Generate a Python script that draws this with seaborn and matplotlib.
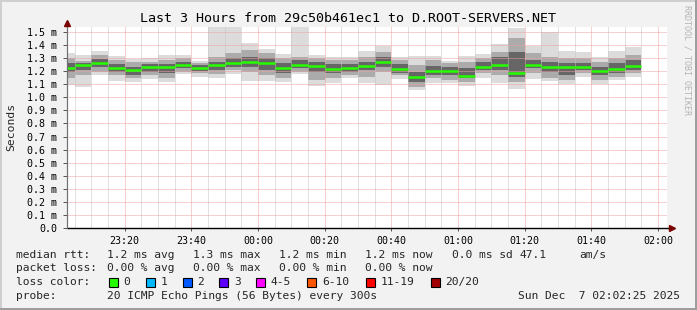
import numpy as np
import pandas as pd
import matplotlib
matplotlib.use("Agg")
import matplotlib.pyplot as plt
import seaborn as sns
from matplotlib.patches import Rectangle

# ---------------- data (ms) ----------------
bin_start = ["23:00", "23:05", "23:10", "23:15", "23:20", "23:25", "23:30", "23:35",
             "23:40", "23:45", "23:50", "23:55", "00:00", "00:05", "00:10", "00:15",
             "00:20", "00:25", "00:30", "00:35", "00:40", "00:45", "00:50", "00:55",
             "01:00", "01:05", "01:10", "01:15", "01:20", "01:25", "01:30", "01:35",
             "01:40", "01:45", "01:50"]

median = [1.222, 1.250, 1.265, 1.226, 1.212, 1.232, 1.232, 1.250, 1.224, 1.250,
          1.265, 1.272, 1.262, 1.227, 1.250, 1.242, 1.219, 1.227, 1.242, 1.273,
          1.219, 1.155, 1.204, 1.204, 1.165, 1.232, 1.248, 1.188, 1.248, 1.232,
          1.232, 1.232, 1.202, 1.213, 1.242]
rtt_max = [1.341, 1.324, 1.357, 1.316, 1.296, 1.303, 1.324, 1.324, 1.278, 1.600,
           1.600, 1.415, 1.370, 1.330, 1.600, 1.324, 1.311, 1.306, 1.354, 1.394,
           1.306, 1.313, 1.313, 1.278, 1.314, 1.330, 1.406, 1.528, 1.394, 1.502,
           1.354, 1.344, 1.306, 1.354, 1.387]
rtt_min = [1.094, 1.081, 1.171, 1.127, 1.117, 1.138, 1.120, 1.177, 1.158, 1.150,
           1.178, 1.126, 1.121, 1.118, 1.177, 1.089, 1.113, 1.149, 1.113, 1.094,
           1.141, 1.053, 1.110, 1.113, 1.083, 1.145, 1.107, 1.066, 1.140, 1.122,
           1.103, 1.155, 1.103, 1.132, 1.152]
mid_hi = [1.300, 1.278, 1.324, 1.285, 1.268, 1.272, 1.285, 1.298, 1.260, 1.311,
          1.337, 1.362, 1.337, 1.298, 1.311, 1.298, 1.285, 1.285, 1.311, 1.349,
          1.285, 1.247, 1.285, 1.260, 1.272, 1.298, 1.349, 1.451, 1.337, 1.311,
          1.298, 1.298, 1.272, 1.298, 1.324]
mid_lo = [1.150, 1.170, 1.196, 1.171, 1.145, 1.171, 1.145, 1.196, 1.183, 1.176,
          1.209, 1.196, 1.171, 1.145, 1.196, 1.132, 1.145, 1.171, 1.158, 1.196,
          1.171, 1.081, 1.145, 1.132, 1.120, 1.183, 1.171, 1.120, 1.183, 1.145,
          1.132, 1.183, 1.132, 1.158, 1.183]
dark_hi = [1.260, 1.265, 1.290, 1.255, 1.234, 1.252, 1.252, 1.272, 1.247, 1.272,
           1.298, 1.311, 1.298, 1.260, 1.285, 1.272, 1.252, 1.252, 1.272, 1.311,
           1.252, 1.196, 1.242, 1.234, 1.222, 1.272, 1.311, 1.349, 1.285, 1.272,
           1.260, 1.260, 1.234, 1.260, 1.285]
dark_lo = [1.190, 1.209, 1.234, 1.191, 1.171, 1.196, 1.183, 1.222, 1.201, 1.209,
           1.234, 1.234, 1.209, 1.183, 1.222, 1.196, 1.183, 1.196, 1.209, 1.234,
           1.183, 1.120, 1.171, 1.171, 1.145, 1.209, 1.209, 1.158, 1.222, 1.196,
           1.171, 1.209, 1.171, 1.183, 1.209]

xtick_labels = ["23:20", "23:40", "00:00", "00:20", "00:40", "01:00", "01:20", "01:40", "02:00"]
ytick_values = [0.0, 0.1, 0.2, 0.3, 0.4, 0.5, 0.6, 0.7, 0.8, 0.9, 1.0, 1.1, 1.2, 1.3, 1.4, 1.5]

title = "Last 3 Hours from 29c50b461ec1 to D.ROOT-SERVERS.NET"
stats_rtt = ["median rtt:", "1.2 ms avg", "1.3 ms max", "1.2 ms min", "1.2 ms now", "0.0 ms sd", "47.1", "am/s"]
stats_loss = ["packet loss:", "0.00 % avg", "0.00 % max", "0.00 % min", "0.00 % now"]
loss_labels = ["0", "1", "2", "3", "4-5", "6-10", "11-19", "20/20"]
loss_colors = ["#26ff00", "#00b8ff", "#0059ff", "#5e00ff", "#ff00ff", "#ff5500", "#ff0000", "#a10000"]
probe_text = "20 ICMP Echo Pings (56 Bytes) every 300s"
stamp = "Sun Dec  7 02:02:25 2025"


def to_min(s):
    h, m = map(int, s.split(":"))
    v = h * 60 + m
    return v - 1440 if h >= 12 else v


t0 = np.array([to_min(s) for s in bin_start], float)
edges = np.append(t0, t0[-1] + 5)
n = len(t0)

# ---------------- figure ----------------
W, H = 697, 310
BG = "#f2f2f2"
sns.set_theme(style="white")
plt.rcParams["font.family"] = ["DejaVu Sans Mono"]

fig = plt.figure(figsize=(W / 100, H / 100), dpi=100, facecolor=BG)
ax = fig.add_axes([67 / W, 1 - 228 / H, 600 / W, 201 / H])
ax.set_facecolor("white")


def ext(a):
    a = np.asarray(a, float)
    return np.append(a, a[-1])


ax.fill_between(edges, ext(rtt_min), ext(rtt_max), step="post", color="#dcdcdc", lw=0, zorder=1)
ax.fill_between(edges, ext(mid_lo), ext(mid_hi), step="post", color="#ababab", lw=0, zorder=1.1)
ax.fill_between(edges, ext(dark_lo), ext(dark_hi), step="post", color="#666666", lw=0, zorder=1.2)

seg = pd.DataFrame({
    "bin": np.repeat(np.arange(n), 2),
    "t": np.column_stack([edges[:-1], edges[1:]]).ravel(),
    "rtt": np.repeat(median, 2),
})
sns.lineplot(data=seg, x="t", y="rtt", units="bin", estimator=None, color="#26ff00",
             lw=1.8, ax=ax, zorder=5, legend=False, solid_capstyle="butt")

ax.set_xlim(-57.3, 122.7)
ax.set_ylim(0, 1.538)
major_x = [to_min(s) for s in xtick_labels]
ax.set_xticks(major_x)
ax.set_xticklabels(xtick_labels)
minor_x = [m for m in np.arange(-55, 121, 5) if m % 20 != 0]
ax.set_xticks(minor_x, minor=True)
ax.set_yticks(ytick_values)
ax.set_yticklabels(["0.0" if v == 0 else f"{v:.1f} m" for v in ytick_values])
ax.set_xlabel("")
ax.set_ylabel("")

ax.set_axisbelow(False)
ax.grid(which="minor", axis="x", color="#c4c4c4", ls=(0, (1, 1)), lw=0.72)
ax.grid(which="major", axis="both", color="#f0a0a0", ls=(0, (1, 1)), lw=0.72)

ax.tick_params(axis="y", which="major", length=3, width=0.7, color="#555555",
               pad=4, labelsize=7.2, labelcolor="black", left=True)
ax.tick_params(axis="x", which="major", length=2, width=0.7, color="#555555",
               pad=3.5, labelsize=7.2, labelcolor="black", bottom=True)
ax.tick_params(axis="x", which="minor", length=0)

for s in ["top", "right"]:
    ax.spines[s].set_visible(False)
ax.spines["left"].set_color("#707070")
ax.spines["left"].set_linewidth(0.8)
ax.spines["bottom"].set_visible(False)

# axis extension lines and arrows
ax.plot([0, 1.0 + 6 / 600], [0, 0], transform=ax.transAxes, clip_on=False, color="black", lw=1.0, zorder=6)
ax.plot([0, 0], [0, 1.0 + 4 / 201], transform=ax.transAxes, clip_on=False, color="#707070", lw=0.8, zorder=6)
ax.plot([1.0 + 5 / 600], [0], marker=">", ms=4.5, color="#7a0000", mec="#7a0000",
        transform=ax.transAxes, clip_on=False, zorder=7)
ax.plot([0], [1.0 + 4.5 / 201], marker="^", ms=4.5, color="#7a0000", mec="#7a0000",
        transform=ax.transAxes, clip_on=False, zorder=7)

# ---------------- texts ----------------
def fx(x):
    return x / W


def fy(y):
    return 1 - y / H


fig.text(fx(348), fy(19), title, ha="center", va="center", fontsize=9.6, color="black")
fig.text(fx(11), fy(127), "Seconds", ha="center", va="center", rotation=90, fontsize=8.2)
fig.text(fx(687), fy(60), "RRDTOOL / TOBI OETIKER", ha="center", va="center",
         rotation=270, fontsize=6.0, color="#b4b4b4")

LFS = 8.1
row_y = [254.7, 268.3, 282.3, 296.0]
rtt_x = [16, 107.3, 193.3, 279.3, 365, 451.7, 520, 579.3]
for txt, x in zip(stats_rtt, rtt_x):
    fig.text(fx(x), fy(row_y[0]), txt, ha="left", va="center", fontsize=LFS)
loss_x = [16, 107.3, 193.3, 279.3, 365]
for txt, x in zip(stats_loss, loss_x):
    fig.text(fx(x), fy(row_y[1]), txt, ha="left", va="center", fontsize=LFS)

fig.text(fx(16), fy(row_y[2]), "loss color:", ha="left", va="center", fontsize=LFS)
box_x = [109, 145.7, 182.7, 219.3, 256, 307.3, 365.5, 430.5]
for lab, col, bx in zip(loss_labels, loss_colors, box_x):
    fig.add_artist(Rectangle((fx(bx), fy(286.5)), 9 / W, 9 / H, transform=fig.transFigure,
                             facecolor=col, edgecolor="black", lw=0.8))
    fig.text(fx(bx + 14.7), fy(row_y[2]), lab, ha="left", va="center", fontsize=LFS)

fig.text(fx(16), fy(row_y[3]), "probe:", ha="left", va="center", fontsize=LFS)
fig.text(fx(107.3), fy(row_y[3]), probe_text, ha="left", va="center", fontsize=LFS)
fig.text(fx(680), fy(row_y[3]), stamp, ha="right", va="center", fontsize=LFS)

# frame
fig.add_artist(Rectangle((0, 1 - 2 / H), 1, 2 / H, transform=fig.transFigure, color="#cfcfcf", lw=0))
fig.add_artist(Rectangle((0, 0), 2 / W, 1, transform=fig.transFigure, color="#cfcfcf", lw=0))
fig.add_artist(Rectangle((0, 0), 1, 2 / H, transform=fig.transFigure, color="#9e9e9e", lw=0))
fig.add_artist(Rectangle((1 - 2 / W, 0), 2 / W, 1, transform=fig.transFigure, color="#9e9e9e", lw=0))

fig.savefig("out.png", dpi=100, facecolor=BG)
